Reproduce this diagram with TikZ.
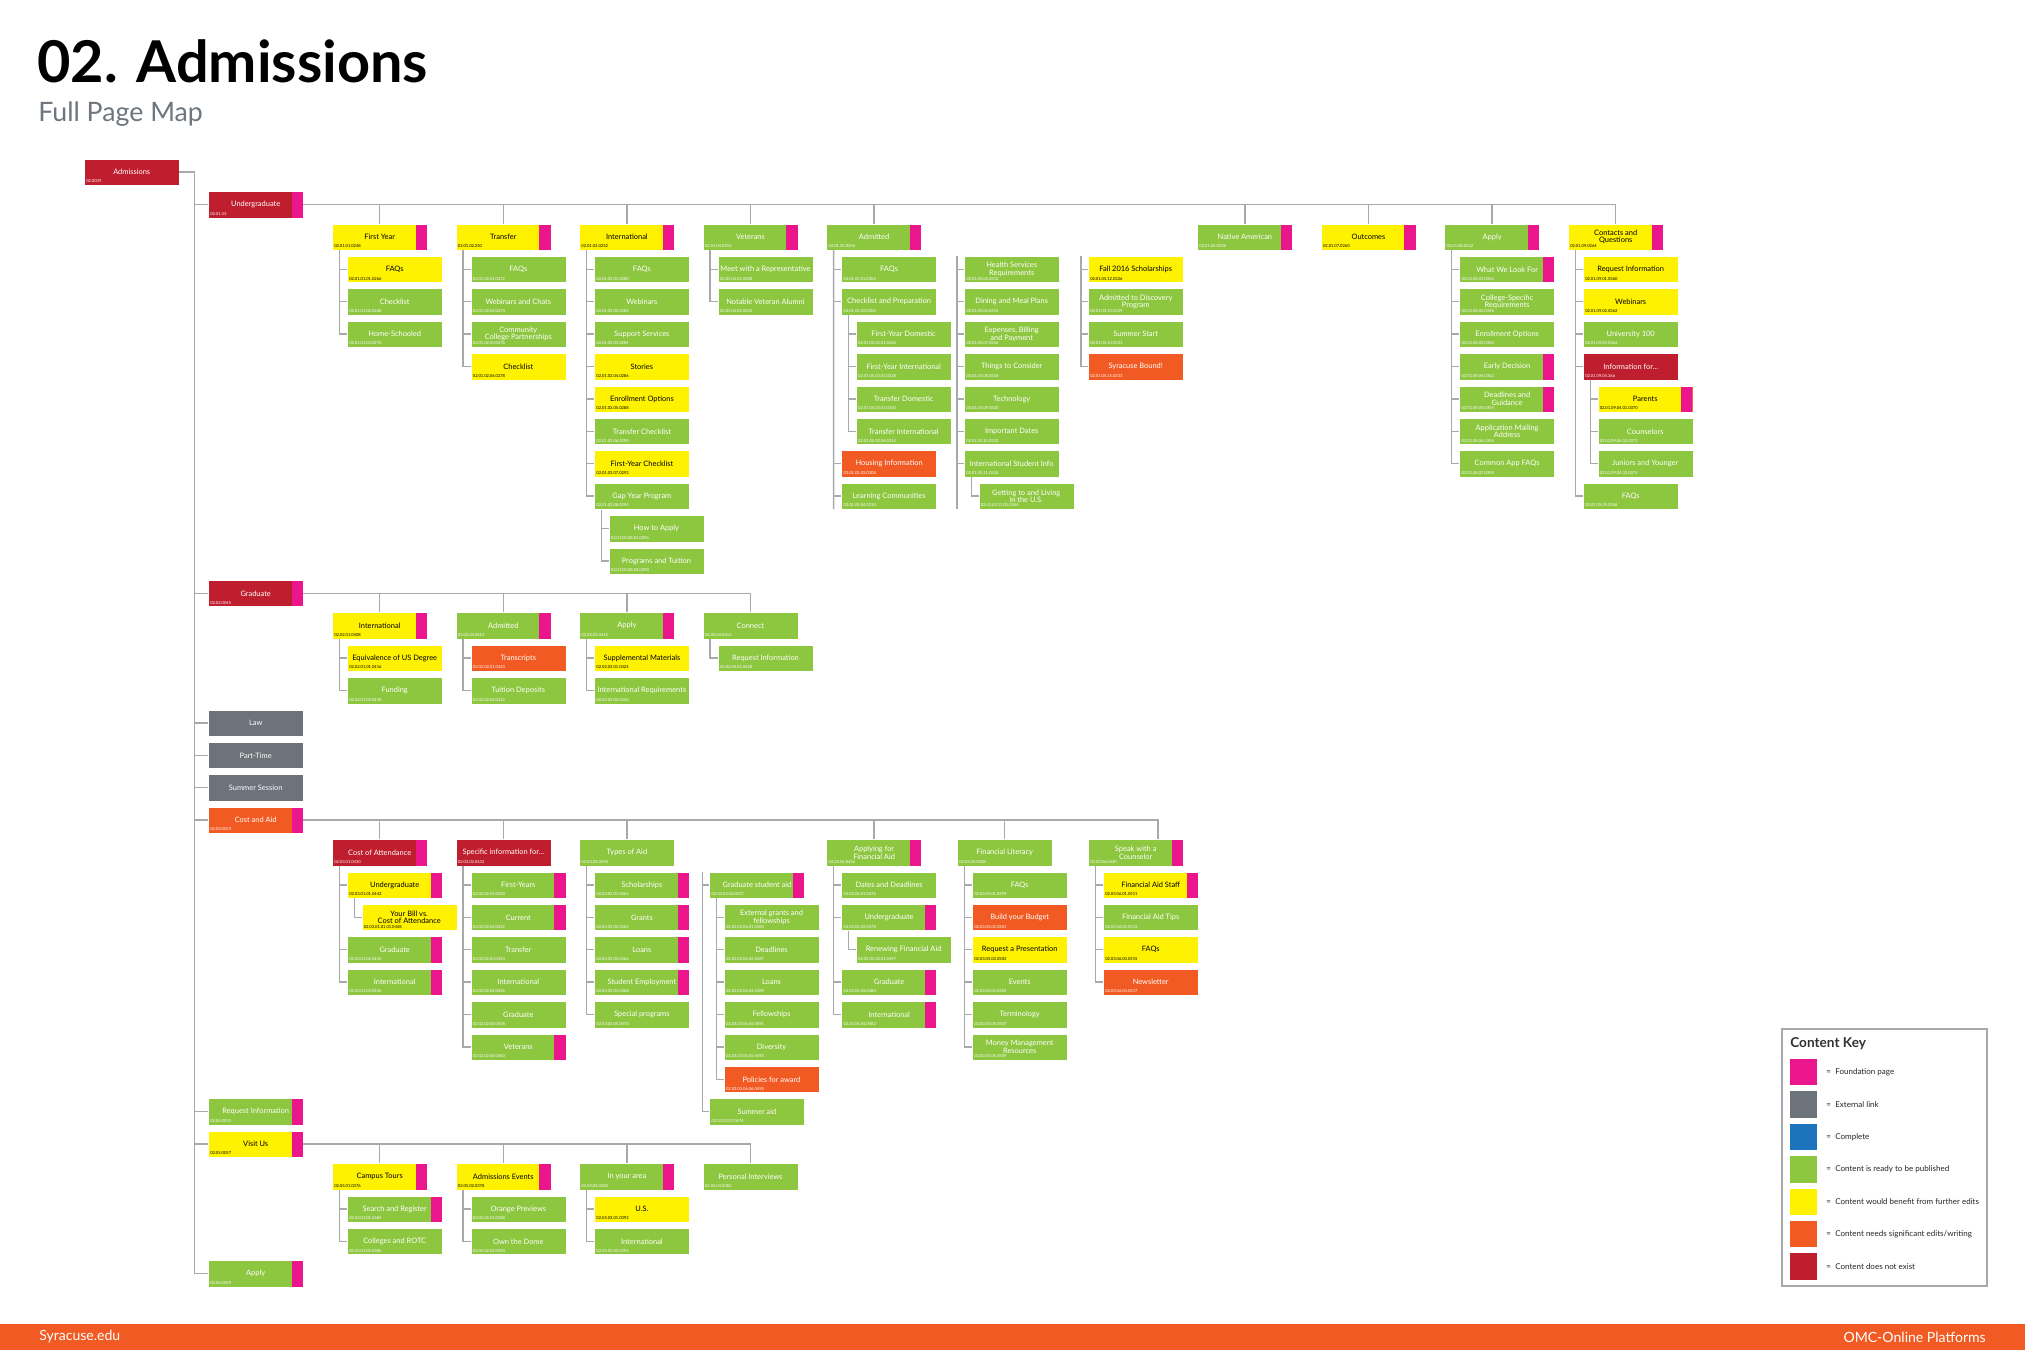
\documentclass[tikz,border=0pt]{standalone}
\usepackage{fontspec}
\setmainfont{Lato}

\definecolor{okgreen}{HTML}{8DC63F}
\definecolor{edityellow}{HTML}{FFF200}
\definecolor{reworkorange}{HTML}{F15A22}
\definecolor{missingred}{HTML}{BE1E2D}
\definecolor{extgray}{HTML}{6D737A}
\definecolor{doneblue}{HTML}{1C75BC}
\definecolor{foundpink}{HTML}{EC168C}
\definecolor{linegray}{HTML}{A7A9AC}
\definecolor{titlegray}{HTML}{6D767E}

\tikzset{
  box/.style={rectangle, draw=white, line width=0.1mm, anchor=north west,
    minimum width=23.75mm, minimum height=6.58mm, inner sep=0pt, align=center,
    font=\fontsize{5.3}{5.4}\selectfont},
  ok/.style={box, fill=okgreen, text=white},
  edit/.style={box, fill=edityellow, text=black},
  rework/.style={box, fill=reworkorange, text=white},
  missing/.style={box, fill=missingred, text=white},
  ext/.style={box, fill=extgray, text=white},
  found/.style={path picture={\fill[foundpink] ([xshift=-2.92mm]path picture bounding box.north east) rectangle (path picture bounding box.south east);}},
  codelbl/.style={anchor=south west, inner xsep=0.5mm, inner ysep=0.6mm, font=\fontsize{2.9}{3}\selectfont},
  code/.style={label={[codelbl, text=white]south west:#1}},
  codek/.style={label={[codelbl, text=black]south west:#1}},
  link/.style={draw=linegray, line width=0.35mm},
  label distance=0pt
}

\begin{document}
\begin{tikzpicture}[x=0.25mm, y=-0.25mm]
  \useasboundingbox (0,0) rectangle (2025,1350);
  \fill[white] (0,0) rectangle (2025,1350);

  % heading
  \node[anchor=base west, inner sep=0pt, font=\fontsize{41}{41}\selectfont\bfseries] (title) at (37,83) {02. Admissions};
  \node[anchor=base west, inner sep=0pt, font=\fontsize{19}{19}\selectfont, text=titlegray] (subtitle) at (38,121.5) {Full Page Map};

  % left column
  \node[missing, code=02.0039] (adm) at (84,158.8) {Admissions};
  \node[missing, found, code=02.01.43] (ug) at (208,191.2) {Undergraduate};
  \node[missing, found, code=02.02.0045] (grad) at (208,580) {Graduate};
  \node[ext] (law) at (208,709.6) {Law};
  \node[ext] (pt) at (208,742) {Part-Time};
  \node[ext] (ss) at (208,774.4) {Summer Session};
  \node[rework, found, code=02.03.0053] (ca) at (208,806.8) {Cost and Aid};
  \node[ok, found, code=02.04.0055] (ri) at (208,1098.4) {Request Information};
  \node[edit, found, codek=02.05.0057] (vu) at (208,1130.8) {Visit Us};
  \node[ok, found, code=02.06.0059] (ap) at (208,1260.4) {Apply};
  \foreach \n in {ug,grad,law,pt,ss,ca,ri,vu,ap}
    \draw[link] (adm.east) -- ++(15,0) |- (\n.west);

  % undergraduate
  \node[edit, found, codek=02.01.01.0248] (ug-fy) at (332,223.6) {First Year};
  \node[edit, found, codek=02.01.02.250] (ug-tr) at (455.6,223.6) {Transfer};
  \node[edit, found, codek=02.01.03.0252] (ug-in) at (579.2,223.6) {International};
  \node[ok, found, code=02.01.04.0254] (ug-vt) at (702.8,223.6) {Veterans};
  \node[ok, found, code=02.01.05.0256] (ug-ad) at (826.4,223.6) {Admitted};
  \node[ok, found, code=02.01.06.0258] (ug-na) at (1197.2,223.6) {Native American};
  \node[edit, found, codek=02.01.07.0260] (ug-oc) at (1320.8,223.6) {Outcomes};
  \node[ok, found, code=02.01.08.0262] (ug-ap) at (1444.4,223.6) {Apply};
  \node[edit, found, codek=02.01.09.0264] (ug-cq) at (1568,223.6) {Contacts and\\Questions};
  \foreach \n in {fy,tr,in,vt,ad,na,oc,ap,cq}
    \draw[link] (ug.east) -| (ug-\n.north);

  % first year
  \node[edit, codek=02.01.01.01.0266] (ug-fy-1) at (347,256) {FAQs};
  \node[ok, code=02.01.01.02.0268] (ug-fy-2) at (347,288.4) {Checklist};
  \node[ok, code=02.01.01.03.0270] (ug-fy-3) at (347,320.8) {Home-Schooled};
  \foreach \n in {1,2,3}
    \draw[link] ([xshift=1.8mm]ug-fy.south west) |- (ug-fy-\n.west);

  % transfer
  \node[ok, code=02.01.02.01.0272] (ug-tr-1) at (470.6,256) {FAQs};
  \node[ok, code=02.01.02.02.0274] (ug-tr-2) at (470.6,288.4) {Webinars and Chats};
  \node[ok, code=02.01.02.03.0276] (ug-tr-3) at (470.6,320.8) {Community\\College Partnerships};
  \node[edit, codek=02.01.02.04.0278] (ug-tr-4) at (470.6,353.2) {Checklist};
  \foreach \n in {1,2,3,4}
    \draw[link] ([xshift=1.8mm]ug-tr.south west) |- (ug-tr-\n.west);

  % international
  \node[ok, code=02.01.03.01.0280] (ug-in-1) at (594.2,256) {FAQs};
  \node[ok, code=02.01.03.02.0282] (ug-in-2) at (594.2,288.4) {Webinars};
  \node[ok, code=02.01.03.03.0284] (ug-in-3) at (594.2,320.8) {Support Services};
  \node[edit, codek=02.01.03.04.0286] (ug-in-4) at (594.2,353.2) {Stories};
  \node[edit, codek=02.01.03.05.0288] (ug-in-5) at (594.2,385.6) {Enrollment Options};
  \node[ok, code=02.01.03.06.0290] (ug-in-6) at (594.2,418) {Transfer Checklist};
  \node[edit, codek=02.01.03.07.0292] (ug-in-7) at (594.2,450.4) {First-Year Checklist};
  \node[ok, code=02.01.03.08.0294] (ug-in-8) at (594.2,482.8) {Gap Year Program};
  \node[ok, code=02.01.03.08.01.0296] (ug-in-8-1) at (608.7,515.2) {How to Apply};
  \node[ok, code=02.01.03.08.02.0298] (ug-in-8-2) at (608.7,547.6) {Programs and Tuition};
  \foreach \n in {1,...,8}
    \draw[link] ([xshift=1.8mm]ug-in.south west) |- (ug-in-\n.west);
  \foreach \n in {1,2}
    \draw[link] ([xshift=1.8mm]ug-in-8.south west) |- (ug-in-8-\n.west);

  % veterans
  \node[ok, code=02.01.04.01.0300] (ug-vt-1) at (717.8,256) {Meet with a Representative};
  \node[ok, code=02.01.04.02.0302] (ug-vt-2) at (717.8,288.4) {Notable Veteran Alumni};
  \foreach \n in {1,2}
    \draw[link] ([xshift=1.8mm]ug-vt.south west) |- (ug-vt-\n.west);

  % admitted
  \node[ok, code=02.01.05.01.0304] (ug-ad-1) at (841.4,256) {FAQs};
  \node[ok, code=02.01.05.02.0306] (ug-ad-2) at (841.4,288.4) {Checklist and Preparation};
  \node[ok, code=02.01.05.02.01.0336] (ug-ad-2-1) at (855.9,320.8) {First-Year Domestic};
  \node[ok, code=02.01.05.02.02.0338] (ug-ad-2-2) at (855.9,353.2) {First-Year International};
  \node[ok, code=02.01.05.02.03.0340] (ug-ad-2-3) at (855.9,385.6) {Transfer Domestic};
  \node[ok, code=02.01.05.02.04.0342] (ug-ad-2-4) at (855.9,418) {Transfer International};
  \node[rework, code=02.01.05.03.0308] (ug-ad-3) at (841.4,450.4) {Housing Information};
  \node[ok, code=02.01.05.04.0310] (ug-ad-4) at (841.4,482.8) {Learning Communities};
  \coordinate (ug-ad-end) at (833.6,509.1);
  \draw[link] ([xshift=1.8mm]ug-ad.south west) -- (ug-ad-end);
  \foreach \n in {1,...,4}
    \draw[link] ([xshift=1.8mm]ug-ad.south west) |- (ug-ad-\n.west);
  \foreach \n in {1,...,4}
    \draw[link] ([xshift=1.8mm]ug-ad-2.south west) |- (ug-ad-2-\n.west);

  % admitted, second column
  \node[ok, code=02.01.05.05.0312] (ug-hs-1) at (964,256) {Health Services\\Requirements};
  \node[ok, code=02.01.05.06.0314] (ug-hs-2) at (964,288.4) {Dining and Meal Plans};
  \node[ok, code=02.01.05.07.0316] (ug-hs-3) at (964,320.8) {Expenses, Billing\\and Payment};
  \node[ok, code=02.01.05.08.0318] (ug-hs-4) at (964,353.2) {Things to Consider};
  \node[ok, code=02.01.05.09.0320] (ug-hs-5) at (964,385.6) {Technology};
  \node[ok, code=02.01.05.10.0322] (ug-hs-6) at (964,418) {Important Dates};
  \node[ok, code=02.01.05.11.0324] (ug-hs-7) at (964,450.4) {International Student Info};
  \node[ok, code=02.01.05.11.01.0344] (ug-hs-7-1) at (978.5,482.8) {Getting to and Living\\in the U.S.};
  \coordinate (ug-hs-top) at (957,256);
  \coordinate (ug-hs-end) at (957,509.1);
  \draw[link] (ug-hs-top) -- (ug-hs-end);
  \foreach \n in {1,...,7}
    \draw[link] (ug-hs-top) |- (ug-hs-\n.west);
  \draw[link] ([xshift=1.8mm]ug-hs-7.south west) |- (ug-hs-7-1.west);

  % admitted, third column
  \node[edit, codek=02.01.05.12.0326] (ug-sc-1) at (1088,256) {Fall 2016 Scholarships};
  \node[ok, code=02.01.05.13.0329] (ug-sc-2) at (1088,288.4) {Admitted to Discovery\\Program};
  \node[ok, code=02.01.05.14.0331] (ug-sc-3) at (1088,320.8) {Summer Start};
  \node[rework, code=02.01.05.15.0333] (ug-sc-4) at (1088,353.2) {Syracuse Bound!};
  \coordinate (ug-sc-top) at (1081,256);
  \foreach \n in {1,...,4}
    \draw[link] (ug-sc-top) |- (ug-sc-\n.west);

  % apply
  \node[ok, found, code=02.01.08.01.0346] (ug-ap-1) at (1459.4,256) {What We Look For};
  \node[ok, code=02.01.08.02.0348] (ug-ap-2) at (1459.4,288.4) {College-Specific\\Requirements};
  \node[ok, code=02.01.08.03.0350] (ug-ap-3) at (1459.4,320.8) {Enrollment Options};
  \node[ok, found, code=02.01.08.04.0352] (ug-ap-4) at (1459.4,353.2) {Early Decision};
  \node[ok, found, code=02.01.08.05.0354] (ug-ap-5) at (1459.4,385.6) {Deadlines and\\Guidance};
  \node[ok, code=02.01.08.06.0356] (ug-ap-6) at (1459.4,418) {Application Mailing\\Address};
  \node[ok, code=02.01.08.07.0358] (ug-ap-7) at (1459.4,450.4) {Common App FAQs};
  \foreach \n in {1,...,7}
    \draw[link] ([xshift=1.8mm]ug-ap.south west) |- (ug-ap-\n.west);

  % contacts and questions
  \node[edit, codek=02.01.09.01.0360] (ug-cq-1) at (1583,256) {Request Information};
  \node[edit, codek=02.01.09.02.0362] (ug-cq-2) at (1583,288.4) {Webinars};
  \node[ok, code=02.01.09.03.0364] (ug-cq-3) at (1583,320.8) {University 100};
  \node[missing, code=02.01.09.04.366] (ug-cq-4) at (1583,353.2) {Information for...};
  \node[edit, found, codek=02.01.09.04.01.0370] (ug-cq-4-1) at (1597.5,385.6) {Parents};
  \node[ok, code=02.01.09.04.02.0372] (ug-cq-4-2) at (1597.5,418) {Counselors};
  \node[ok, code=02.01.09.04.03.0374] (ug-cq-4-3) at (1597.5,450.4) {Juniors and Younger};
  \node[ok, code=02.01.09.05.0368] (ug-cq-5) at (1583,482.8) {FAQs};
  \foreach \n in {1,...,5}
    \draw[link] ([xshift=1.8mm]ug-cq.south west) |- (ug-cq-\n.west);
  \foreach \n in {1,2,3}
    \draw[link] ([xshift=1.8mm]ug-cq-4.south west) |- (ug-cq-4-\n.west);

  % graduate
  \node[edit, found, codek=02.02.01.0408] (gr-in) at (332,612.4) {International};
  \node[ok, found, code=02.02.02.0410] (gr-ad) at (455.6,612.4) {Admitted};
  \node[ok, found, code=02.02.03.0412] (gr-ap) at (579.2,612.4) {Apply};
  \node[ok, code=02.02.04.0414] (gr-co) at (702.8,612.4) {Connect};
  \foreach \n in {in,ad,ap,co}
    \draw[link] (grad.east) -| (gr-\n.north);
  \node[edit, codek=02.02.01.01.0416] (gr-in-1) at (347,644.8) {Equivalence of US Degree};
  \node[ok, code=02.02.01.02.0418] (gr-in-2) at (347,677.2) {Funding};
  \node[rework, code=02.02.02.01.0420] (gr-ad-1) at (470.6,644.8) {Transcripts};
  \node[ok, code=02.02.02.02.0422] (gr-ad-2) at (470.6,677.2) {Tuition Deposits};
  \node[edit, codek=02.02.03.01.0424] (gr-ap-1) at (594.2,644.8) {Supplemental Materials};
  \node[ok, code=02.02.03.02.0426] (gr-ap-2) at (594.2,677.2) {International Requirements};
  \node[ok, code=02.02.04.01.0428] (gr-co-1) at (717.8,644.8) {Request Information};
  \foreach \p/\n in {in/1,in/2,ad/1,ad/2,ap/1,ap/2,co/1}
    \draw[link] ([xshift=1.8mm]gr-\p.south west) |- (gr-\p-\n.west);

  % cost and aid
  \node[missing, found, code=02.03.01.0430] (ca-coa) at (332,839.2) {Cost of Attendance};
  \node[missing, code=02.03.02.0432] (ca-sp) at (455.6,839.2) {Specific information for...};
  \node[ok, code=02.03.03.0434] (ca-ty) at (579.2,839.2) {Types of Aid};
  \node[ok, found, code=02.03.04.0436] (ca-af) at (826.4,839.2) {Applying for\\Financial Aid};
  \node[ok, code=02.03.05.0438] (ca-fl) at (957,839.2) {Financial Literacy};
  \node[ok, found, code=02.03.06.0440] (ca-sw) at (1088,839.2) {Speak with a\\Counselor};
  \coordinate (ca-sw-top) at (1158,839.2);
  \foreach \n in {coa,sp,ty,af,fl}
    \draw[link] (ca.east) -| (ca-\n.north);
  \draw[link] (ca.east) -| (ca-sw-top);

  % cost of attendance
  \node[edit, found, codek=02.03.01.01.0442] (ca-coa-1) at (347,871.6) {Undergraduate};
  \node[edit, codek=02.03.01.01.01.0448] (ca-coa-1-1) at (361.5,904) {Your Bill vs.\\Cost of Attendance};
  \node[ok, found, code=02.03.01.02.0444] (ca-coa-2) at (347,936.4) {Graduate};
  \node[ok, found, code=02.03.01.03.0446] (ca-coa-3) at (347,968.8) {International};
  \foreach \n in {1,2,3}
    \draw[link] ([xshift=1.8mm]ca-coa.south west) |- (ca-coa-\n.west);
  \draw[link] ([xshift=1.8mm]ca-coa-1.south west) |- (ca-coa-1-1.west);

  % specific information for
  \node[ok, found, code=02.03.02.01.0450] (ca-sp-1) at (470.6,871.6) {First-Years};
  \node[ok, found, code=02.03.02.02.0452] (ca-sp-2) at (470.6,904) {Current};
  \node[ok, code=02.03.02.03.0454] (ca-sp-3) at (470.6,936.4) {Transfer};
  \node[ok, code=02.03.02.04.0456] (ca-sp-4) at (470.6,968.8) {International};
  \node[ok, code=02.03.02.05.0458] (ca-sp-5) at (470.6,1001.2) {Graduate};
  \node[ok, found, code=02.03.02.06.0460] (ca-sp-6) at (470.6,1033.6) {Veterans};
  \foreach \n in {1,...,6}
    \draw[link] ([xshift=1.8mm]ca-sp.south west) |- (ca-sp-\n.west);

  % types of aid
  \node[ok, found, code=02.03.03.01.0462] (ca-ty-1) at (594.2,871.6) {Scholarships};
  \node[ok, found, code=02.03.03.02.0464] (ca-ty-2) at (594.2,904) {Grants};
  \node[ok, found, code=02.03.03.03.0466] (ca-ty-3) at (594.2,936.4) {Loans};
  \node[ok, found, code=02.03.03.04.0468] (ca-ty-4) at (594.2,968.8) {Student Employment};
  \node[ok, code=02.03.03.05.0470] (ca-ty-5) at (594.2,1001.2) {Special programs};
  \foreach \n in {1,...,5}
    \draw[link] ([xshift=1.8mm]ca-ty.south west) |- (ca-ty-\n.west);

  % types of aid, second column
  \node[ok, found, code=02.03.03.06.0472] (ca-ga) at (709.3,871.6) {Graduate student aid};
  \node[ok, code=02.03.03.06.01.0484] (ca-ga-1) at (723.8,904) {External grants and\\fellowships};
  \node[ok, code=02.03.03.06.02.0487] (ca-ga-2) at (723.8,936.4) {Deadlines};
  \node[ok, code=02.03.03.06.03.0489] (ca-ga-3) at (723.8,968.8) {Loans};
  \node[ok, code=02.03.03.06.04.0491] (ca-ga-4) at (723.8,1001.2) {Fellowships};
  \node[ok, code=02.03.03.06.05.0493] (ca-ga-5) at (723.8,1033.6) {Diversity};
  \node[rework, code=02.03.03.06.06.0495] (ca-ga-6) at (723.8,1066) {Policies for award};
  \node[ok, code=02.03.03.07.0474] (ca-sa) at (709.3,1098.4) {Summer aid};
  \coordinate (ca-ga-top) at (702.3,871.6);
  \draw[link] (ca-ga-top) |- (ca-ga.west);
  \draw[link] (ca-ga-top) |- (ca-sa.west);
  \foreach \n in {1,...,6}
    \draw[link] ([xshift=1.8mm]ca-ga.south west) |- (ca-ga-\n.west);

  % applying for financial aid
  \node[ok, code=02.03.04.01.0476] (ca-af-1) at (841.4,871.6) {Dates and Deadlines};
  \node[ok, found, code=02.03.04.02.0478] (ca-af-2) at (841.4,904) {Undergraduate};
  \node[ok, code=02.03.04.02.01.0497] (ca-af-2-1) at (855.9,936.4) {Renewing Financial Aid};
  \node[ok, found, code=02.03.04.03.0480] (ca-af-3) at (841.4,968.8) {Graduate};
  \node[ok, found, code=02.03.04.04.0482] (ca-af-4) at (841.4,1001.2) {International};
  \foreach \n in {1,...,4}
    \draw[link] ([xshift=1.8mm]ca-af.south west) |- (ca-af-\n.west);
  \draw[link] ([xshift=1.8mm]ca-af-2.south west) |- (ca-af-2-1.west);

  % financial literacy
  \node[ok, code=02.03.05.01.0499] (ca-fl-1) at (972,871.6) {FAQs};
  \node[rework, code=02.03.05.02.0501] (ca-fl-2) at (972,904) {Build your Budget};
  \node[edit, codek=02.03.05.03.0503] (ca-fl-3) at (972,936.4) {Request a Presentation};
  \node[ok, code=02.03.05.04.0505] (ca-fl-4) at (972,968.8) {Events};
  \node[ok, code=02.03.05.05.0507] (ca-fl-5) at (972,1001.2) {Terminology};
  \node[ok, code=02.03.05.06.0509] (ca-fl-6) at (972,1033.6) {Money Management\\Resources};
  \foreach \n in {1,...,6}
    \draw[link] ([xshift=1.8mm]ca-fl.south west) |- (ca-fl-\n.west);

  % speak with a counselor
  \node[edit, found, codek=02.03.06.01.0511] (ca-sw-1) at (1103,871.6) {Financial Aid Staff};
  \node[ok, code=02.03.06.02.0513] (ca-sw-2) at (1103,904) {Financial Aid Tips};
  \node[edit, codek=02.03.06.03.0515] (ca-sw-3) at (1103,936.4) {FAQs};
  \node[rework, code=02.03.06.04.0517] (ca-sw-4) at (1103,968.8) {Newsletter};
  \foreach \n in {1,...,4}
    \draw[link] ([xshift=1.8mm]ca-sw.south west) |- (ca-sw-\n.west);

  % visit us
  \node[edit, found, codek=02.05.01.0376] (vu-ct) at (332,1163.2) {Campus Tours};
  \node[edit, found, codek=02.05.02.0378] (vu-ae) at (455.6,1163.2) {Admissions Events};
  \node[ok, found, code=02.05.03.0380] (vu-ia) at (579.2,1163.2) {In your area};
  \node[ok, code=02.05.04.0382] (vu-pi) at (702.8,1163.2) {Personal Interviews};
  \foreach \n in {ct,ae,ia,pi}
    \draw[link] (vu.east) -| (vu-\n.north);
  \node[ok, found, code=02.05.01.01.0384] (vu-ct-1) at (347,1195.6) {Search and Register};
  \node[ok, code=02.05.01.02.0386] (vu-ct-2) at (347,1228) {Colleges and ROTC};
  \node[ok, code=02.05.02.01.0388] (vu-ae-1) at (470.6,1195.6) {Orange Previews};
  \node[ok, code=02.05.02.02.0390] (vu-ae-2) at (470.6,1228) {Own the Dome};
  \node[edit, codek=02.05.03.01.0392] (vu-ia-1) at (594.2,1195.6) {U.S.};
  \node[ok, code=02.05.03.02.0394] (vu-ia-2) at (594.2,1228) {International};
  \foreach \p/\n in {ct/1,ct/2,ae/1,ae/2,ia/1,ia/2}
    \draw[link] ([xshift=1.8mm]vu-\p.south west) |- (vu-\p-\n.west);

  % content key
  \draw[draw=linegray, line width=0.3mm] (1782,1029) rectangle (1987,1286);
  \node[anchor=base west, inner sep=0pt, font=\fontsize{9.7}{10}\selectfont\bfseries, text=black!80] (key) at (1790,1047) {Content Key};
  \foreach \c/\t [count=\i from 0] in {foundpink/{Foundation page}, extgray/{External link}, doneblue/{Complete}, okgreen/{Content is ready to be published}, edityellow/{Content would benefit from further edits}, reworkorange/{Content needs significant edits/writing}, missingred/{Content does not exist}} {
    \fill[\c] (1790,{1059+32.4*\i}) rectangle ++(26.7,26.3);
    \node[anchor=west, inner sep=0pt, font=\fontsize{5.7}{6}\selectfont, text=black!85] (key-\i) at (1826,{1072.2+32.4*\i}) {=\hspace{1.1mm}\t};
  }

  % footer
  \fill[reworkorange] (0,1324) rectangle (2025,1350);
  \node[anchor=west, inner sep=0pt, text=white, font=\fontsize{10}{10}\selectfont] (foot-l) at (39,1337) {Syracuse.edu};
  \node[anchor=east, inner sep=0pt, text=white, font=\fontsize{10}{10}\selectfont] (foot-r) at (1986,1337) {OMC-Online Platforms};
\end{tikzpicture}
\end{document}
